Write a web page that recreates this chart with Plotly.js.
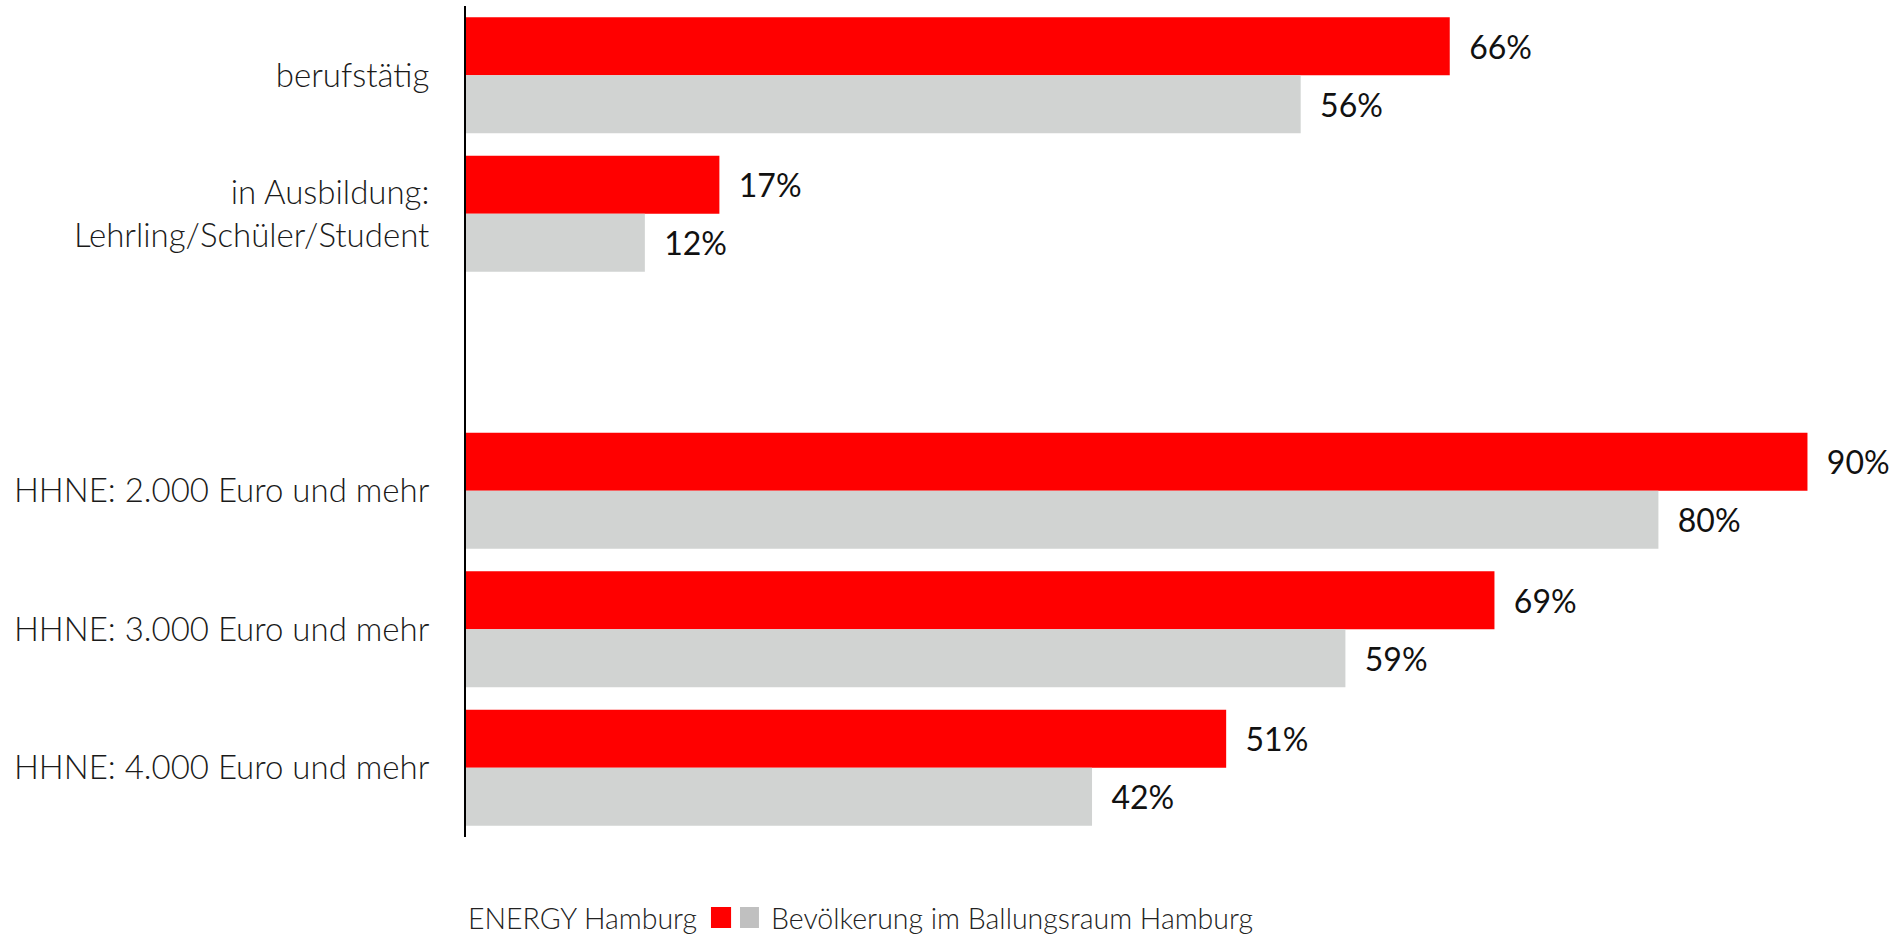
<!DOCTYPE html>
<html>
<head>
<meta charset="utf-8">
<script src="https://cdn.plot.ly/plotly-3.0.1.min.js"></script>
<style>html,body{margin:0;padding:0;background:#fff;}#chart{width:1897px;height:934px;}</style>
</head>
<body>
<div id="chart"></div>
<script>
const categories = [
  'berufstätig',
  'in Ausbildung:<br>Lehrling/Schüler/Student',
  ' ',
  'HHNE: 2.000 Euro und mehr',
  'HHNE: 3.000 Euro und mehr',
  'HHNE: 4.000 Euro und mehr'
];
const seriesNames = ['ENERGY Hamburg', 'Bevölkerung im Ballungsraum Hamburg'];
const energyValues = [66, 17, null, 90, 69, 51];
const populationValues = [56, 12, null, 80, 59, 42];
const colors = ['#FF0000', '#D1D3D2'];
const legendColors = ['#FF0000', '#C0C0C0'];

const labelFont = {family: 'Lato, "Open Sans", sans-serif', size: 32, color: '#111', weight: 400};

function barTrace(name, vals, color) {
  return {
    type: 'bar', orientation: 'h', name: name,
    y: categories, x: vals,
    marker: {color: color, line: {width: 0}},
    text: vals.map(v => v == null ? '' : '\u00a0\u00a0' + v + '%'),
    texttemplate: '%{text}',
    textposition: 'outside',
    constraintext: 'none',
    cliponaxis: false,
    textfont: labelFont,
    hoverinfo: 'skip'
  };
}

const data = [
  barTrace(seriesNames[0], energyValues, colors[0]),
  barTrace(seriesNames[1], populationValues, colors[1])
];

const legendFont = {family: 'Lato, "Open Sans", sans-serif', size: 28.5, color: '#222', weight: 300};

const layout = {
  width: 1897, height: 934,
  margin: {l: 466, r: 15, t: 6, b: 97},
  paper_bgcolor: '#fff', plot_bgcolor: '#fff',
  barmode: 'group', bargap: 0.163, bargroupgap: 0,
  showlegend: false,
  font: {family: 'Lato, "Open Sans", sans-serif'},
  xaxis: {range: [0, 95], visible: false, showgrid: false, zeroline: false, fixedrange: true},
  yaxis: {
    type: 'category', autorange: 'reversed',
    showline: true, linecolor: '#000', linewidth: 2,
    showgrid: false, zeroline: false, ticks: '',
    ticklabelstandoff: 28,
    tickfont: {family: 'Lato, "Open Sans", sans-serif', size: 33, color: '#1a1a1a', weight: 300},
    fixedrange: true
  },
  annotations: [
    {xref: 'paper', yref: 'paper', x: 0.1648, y: -0.097, xanchor: 'right', yanchor: 'middle',
     text: seriesNames[0], showarrow: false, font: legendFont},
    {xref: 'paper', yref: 'paper', x: 0.2140, y: -0.097, xanchor: 'left', yanchor: 'middle',
     text: seriesNames[1], showarrow: false, font: legendFont}
  ],
  shapes: [
    {type: 'rect', xref: 'paper', yref: 'paper', x0: 0.1730, x1: 0.1872, y0: -0.1095, y1: -0.0842,
     fillcolor: legendColors[0], line: {width: 0}},
    {type: 'rect', xref: 'paper', yref: 'paper', x0: 0.1935, x1: 0.2069, y0: -0.1095, y1: -0.0842,
     fillcolor: legendColors[1], line: {width: 0}}
  ]
};

Plotly.newPlot('chart', data, layout, {displayModeBar: false, staticPlot: true});
</script>
</body>
</html>
